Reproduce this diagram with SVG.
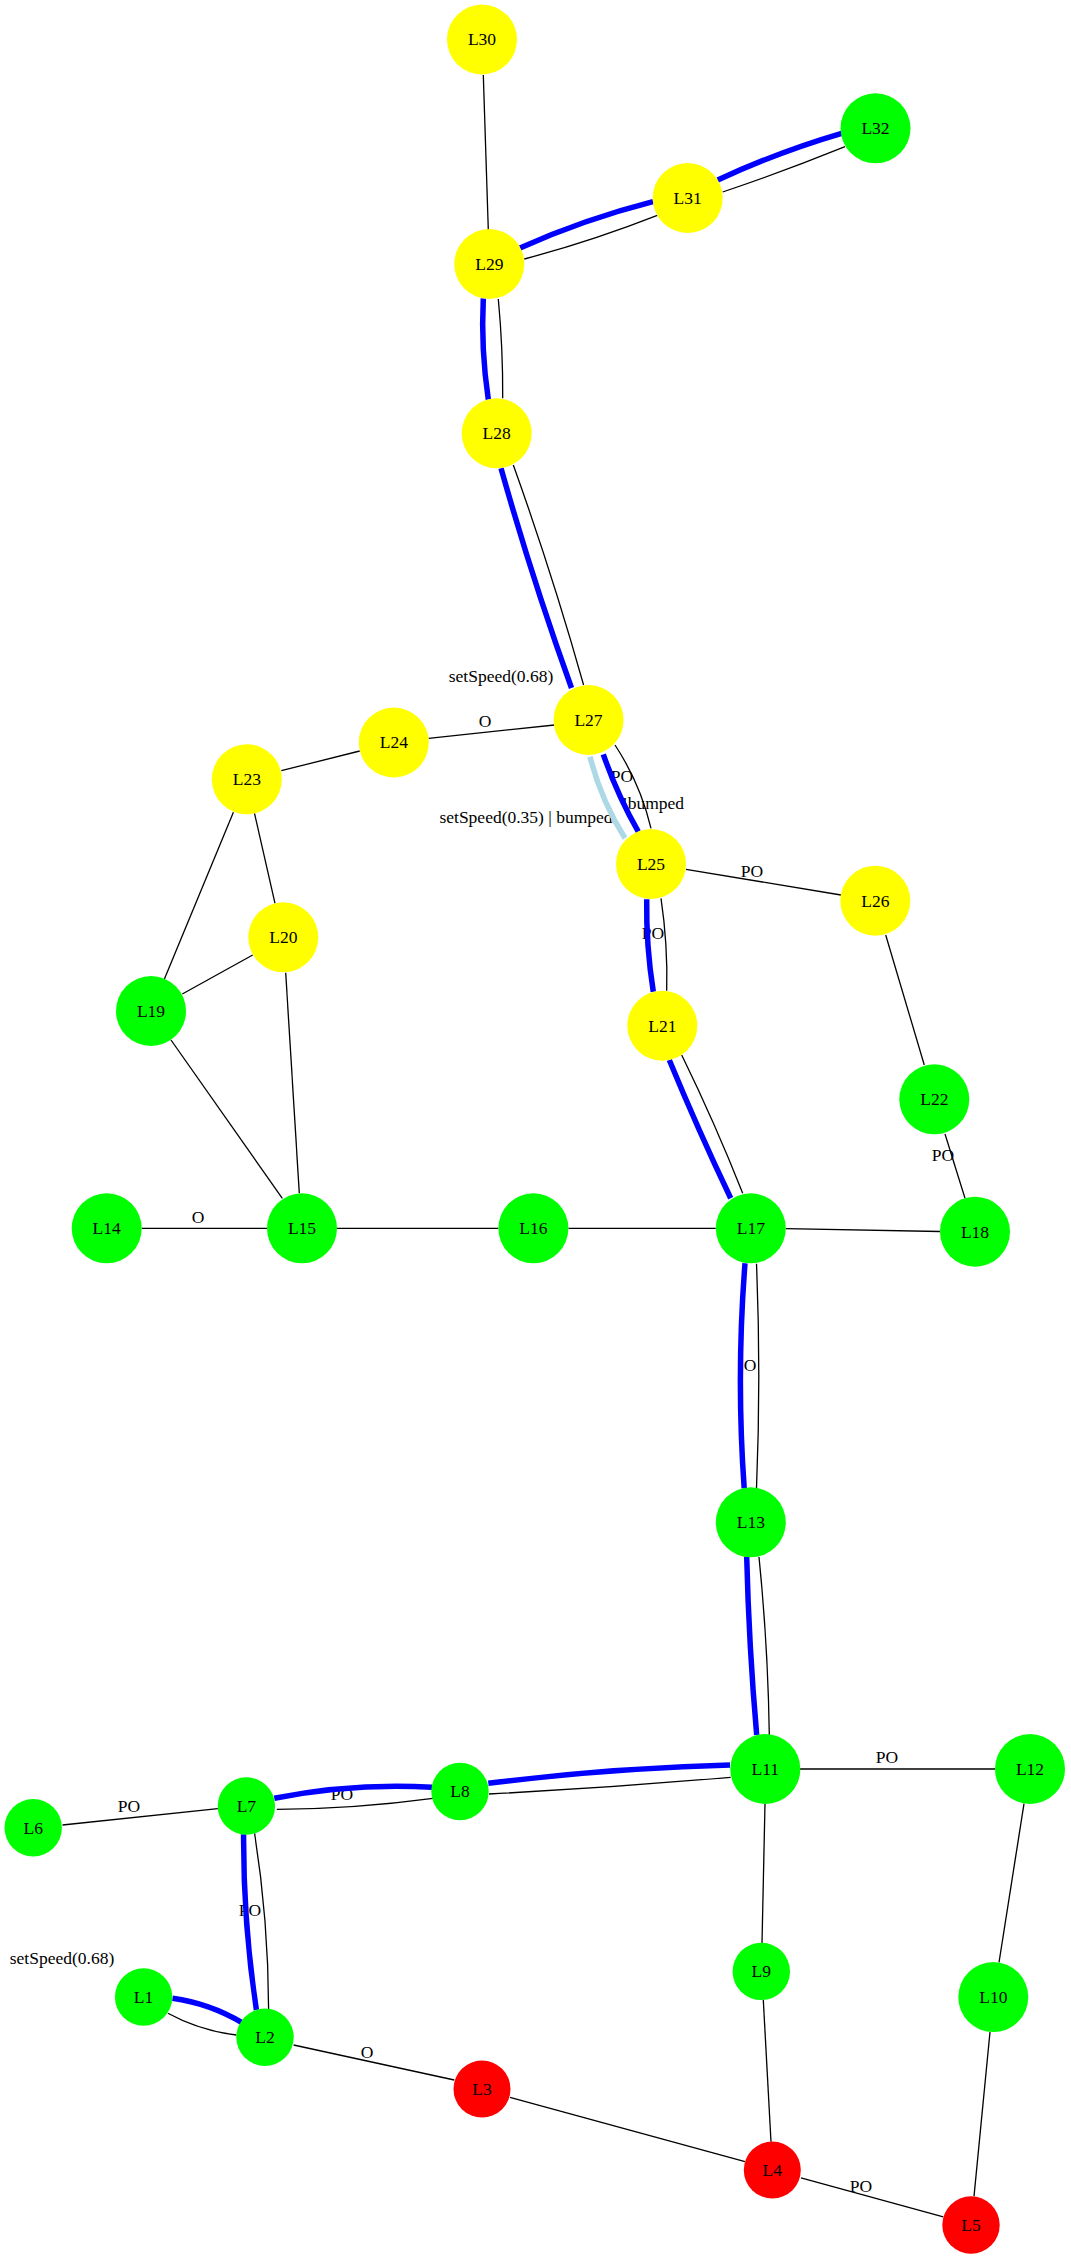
<svg xmlns="http://www.w3.org/2000/svg" width="1071" height="2260" viewBox="0 0 1071 2260">
  <style>
    text { font-family: "Liberation Serif", "Times New Roman", serif; font-size: 17.5px; fill: #000; text-anchor: middle; }
    .e { fill: none; stroke: #000; stroke-width: 1.3; }
    .b { fill: none; stroke: #0000ff; stroke-width: 5.5; }
    .lb { fill: none; stroke: #add8e6; stroke-width: 5.5; }
    .y { fill: #ffff00; }
    .g { fill: #00ff00; }
    .r { fill: #ff0000; }
  </style>

  <!-- edge labels (edges are painted over them) -->
  <g id="edge-labels">
    <text x="501" y="682">setSpeed(0.68)</text>
    <text x="485" y="726.5">O</text>
    <text x="622" y="782">PO</text>
    <text x="653" y="809">!bumped</text>
    <text x="526" y="823">setSpeed(0.35) | bumped</text>
    <text x="752" y="877">PO</text>
    <text x="653" y="939">PO</text>
    <text x="943" y="1161">PO</text>
    <text x="198" y="1222.5">O</text>
    <text x="750" y="1371">O</text>
    <text x="887" y="1763">PO</text>
    <text x="129" y="1812">PO</text>
    <text x="342" y="1800">PO</text>
    <text x="250" y="1916">PO</text>
    <text x="62" y="1964">setSpeed(0.68)</text>
    <text x="367" y="2058">O</text>
    <text x="861" y="2192">PO</text>
  </g>

  <g id="connectors">
    <!-- upper track -->
    <line class="e" x1="483.3" y1="75" x2="488.3" y2="230"/>
    <path class="b" d="M520,248 Q584.5,219.2 653,201.7"/>
    <path class="e" d="M524.3,259 Q592.1,240.9 657.3,215.3"/>
    <path class="b" d="M717.7,180 Q777.9,152 841.7,133.3"/>
    <path class="e" d="M722.7,192 Q784.6,171.2 845,146.7"/>
    <path class="b" d="M483.3,298.5 Q480.8,349 488.3,399.5"/>
    <path class="e" d="M498.3,299 Q503,348.6 502.7,398.3"/>
    <path class="b" d="M501,468.3 Q532.4,579.4 571.5,688"/>
    <path class="e" d="M513.3,465 Q552.3,573.8 583.6,685"/>
    <path class="lb" d="M590,756.7 Q601.1,800.3 625,838.3"/>
    <path class="b" d="M603.3,754.3 Q617.2,794.6 638.3,831.7"/>
    <path class="e" d="M615,745 Q640.3,783.5 651,828.3"/>
    <line class="e" x1="428.6" y1="738.3" x2="554.5" y2="725"/>
    <line class="e" x1="281.3" y1="770.7" x2="359.7" y2="751"/>
    <line class="e" x1="254.5" y1="813.3" x2="275" y2="903.3"/>
    <line class="e" x1="233.4" y1="812.3" x2="164.3" y2="979.3"/>
    <line class="e" x1="182.3" y1="994" x2="252.7" y2="955"/>
    <line class="e" x1="171" y1="1040" x2="282.3" y2="1198.3"/>
    <line class="e" x1="285.7" y1="972.7" x2="299.3" y2="1193.3"/>
    <line class="e" x1="686" y1="869.3" x2="841" y2="895"/>
    <line class="e" x1="885.7" y1="935" x2="924.3" y2="1065"/>
    <line class="e" x1="945" y1="1134" x2="965" y2="1198.3"/>
    <path class="b" d="M646.7,899.3 Q646,945.8 653.3,991.7"/>
    <path class="e" d="M661,898.3 Q667.9,944.2 666.7,990.7"/>
    <path class="b" d="M669.3,1060 Q698.2,1130 730.7,1198.3"/>
    <path class="e" d="M681.7,1055 Q714.9,1122.9 742.7,1193.3"/>

    <!-- middle row -->
    <line class="e" x1="141.7" y1="1228.3" x2="267" y2="1228.3"/>
    <line class="e" x1="337" y1="1228.3" x2="498.4" y2="1228.3"/>
    <line class="e" x1="568.4" y1="1228.3" x2="715.8" y2="1228.3"/>
    <line class="e" x1="785.8" y1="1228.6" x2="940" y2="1231.5"/>
    <path class="b" d="M745,1263.3 Q736.2,1375.8 744.2,1488.3"/>
    <path class="e" d="M756.5,1263.7 Q761.1,1376 756.5,1488.3"/>
    <path class="b" d="M746.7,1556.7 Q748.9,1645.9 756.7,1735"/>
    <path class="e" d="M759,1557 Q768,1646 769.3,1735"/>

    <!-- lower track -->
    <path class="b" d="M488.3,1783.3 Q608.7,1768.2 730,1765"/>
    <path class="e" d="M489,1794 Q609.9,1787.7 730.7,1777.3"/>
    <path class="b" d="M274.3,1798.3 Q352.5,1782.8 432,1787.3"/>
    <path class="e" d="M276.8,1809.3 Q355.2,1808.8 432.9,1798.3"/>
    <line class="e" x1="62.5" y1="1825" x2="217.9" y2="1808.7"/>
    <path class="b" d="M243.6,1834.3 Q243.2,1922.6 256.4,2010"/>
    <path class="e" d="M254.6,1833.3 Q268.4,1920.8 268.6,2009.3"/>
    <path class="b" d="M172.5,1998.3 Q209.7,2003.5 242,2022.7"/>
    <path class="e" d="M167.9,2013.3 Q200,2030.8 236.4,2035"/>
    <line class="e" x1="293.6" y1="2045" x2="454.3" y2="2080"/>
    <line class="e" x1="510" y1="2097.3" x2="745" y2="2161.7"/>
    <line class="e" x1="765" y1="1803.6" x2="762" y2="1942.9"/>
    <line class="e" x1="763.3" y1="2000" x2="771" y2="2141.8"/>
    <line class="e" x1="800" y1="1769" x2="995" y2="1769"/>
    <line class="e" x1="1024" y1="1803.6" x2="999" y2="1962.5"/>
    <line class="e" x1="990" y1="2032" x2="974" y2="2196.4"/>
    <line class="e" x1="801" y1="2177.9" x2="943.3" y2="2216.8"/>
  </g>

  <!-- nodes -->
  <g id="L30"><circle class="y" cx="482" cy="39.5" r="35"/><text x="482" y="45.3">L30</text></g>
  <g id="L32"><circle class="g" cx="875.5" cy="128.3" r="35"/><text x="875.5" y="134.1">L32</text></g>
  <g id="L31"><circle class="y" cx="687.7" cy="198" r="35"/><text x="687.7" y="203.8">L31</text></g>
  <g id="L29"><circle class="y" cx="489.3" cy="264" r="35"/><text x="489.3" y="269.8">L29</text></g>
  <g id="L28"><circle class="y" cx="496.7" cy="433.3" r="35"/><text x="496.7" y="439.1">L28</text></g>
  <g id="L27"><circle class="y" cx="588.5" cy="720" r="35"/><text x="588.5" y="725.8">L27</text></g>
  <g id="L24"><circle class="y" cx="393.8" cy="742.5" r="35"/><text x="393.8" y="748.3">L24</text></g>
  <g id="L23"><circle class="y" cx="246.8" cy="779.3" r="35"/><text x="246.8" y="785.1">L23</text></g>
  <g id="L25"><circle class="y" cx="651" cy="864" r="35"/><text x="651" y="869.8">L25</text></g>
  <g id="L26"><circle class="y" cx="875.3" cy="900.7" r="35"/><text x="875.3" y="906.5">L26</text></g>
  <g id="L20"><circle class="y" cx="283.3" cy="937.3" r="35"/><text x="283.3" y="943.1">L20</text></g>
  <g id="L19"><circle class="g" cx="151" cy="1011" r="35"/><text x="151" y="1016.8">L19</text></g>
  <g id="L21"><circle class="y" cx="662.3" cy="1025.7" r="35"/><text x="662.3" y="1031.5">L21</text></g>
  <g id="L22"><circle class="g" cx="934.3" cy="1099.3" r="35"/><text x="934.3" y="1105.1">L22</text></g>
  <g id="L14"><circle class="g" cx="106.7" cy="1228.3" r="35"/><text x="106.7" y="1234.1">L14</text></g>
  <g id="L15"><circle class="g" cx="302" cy="1228.3" r="35"/><text x="302" y="1234.1">L15</text></g>
  <g id="L16"><circle class="g" cx="533.4" cy="1228.3" r="35"/><text x="533.4" y="1234.1">L16</text></g>
  <g id="L17"><circle class="g" cx="750.8" cy="1228.3" r="35"/><text x="750.8" y="1234.1">L17</text></g>
  <g id="L18"><circle class="g" cx="975" cy="1231.7" r="35"/><text x="975" y="1237.5">L18</text></g>
  <g id="L13"><circle class="g" cx="750.8" cy="1522.3" r="35"/><text x="750.8" y="1528.1">L13</text></g>
  <g id="L11"><circle class="g" cx="765.3" cy="1769" r="35"/><text x="765.3" y="1774.8">L11</text></g>
  <g id="L12"><circle class="g" cx="1030" cy="1769" r="35"/><text x="1030" y="1774.8">L12</text></g>
  <g id="L6"><circle class="g" cx="33.2" cy="1827.7" r="28.7"/><text x="33.2" y="1833.5">L6</text></g>
  <g id="L7"><circle class="g" cx="246.4" cy="1806" r="28.7"/><text x="246.4" y="1811.8">L7</text></g>
  <g id="L8"><circle class="g" cx="460" cy="1791.5" r="28.7"/><text x="460" y="1797.3">L8</text></g>
  <g id="L9"><circle class="g" cx="761.3" cy="1971.4" r="28.7"/><text x="761.3" y="1977.2">L9</text></g>
  <g id="L10"><circle class="g" cx="993.3" cy="1997.1" r="35"/><text x="993.3" y="2002.9">L10</text></g>
  <g id="L1"><circle class="g" cx="143.6" cy="1997" r="28.7"/><text x="143.6" y="2002.8">L1</text></g>
  <g id="L2"><circle class="g" cx="265" cy="2037.3" r="28.7"/><text x="265" y="2043.1">L2</text></g>
  <g id="L3"><circle class="r" cx="482" cy="2089" r="28.5"/><text x="482" y="2094.8">L3</text></g>
  <g id="L4"><circle class="r" cx="772.3" cy="2170" r="28.5"/><text x="772.3" y="2175.8">L4</text></g>
  <g id="L5"><circle class="r" cx="971" cy="2225" r="28.7"/><text x="971" y="2230.8">L5</text></g>
</svg>
